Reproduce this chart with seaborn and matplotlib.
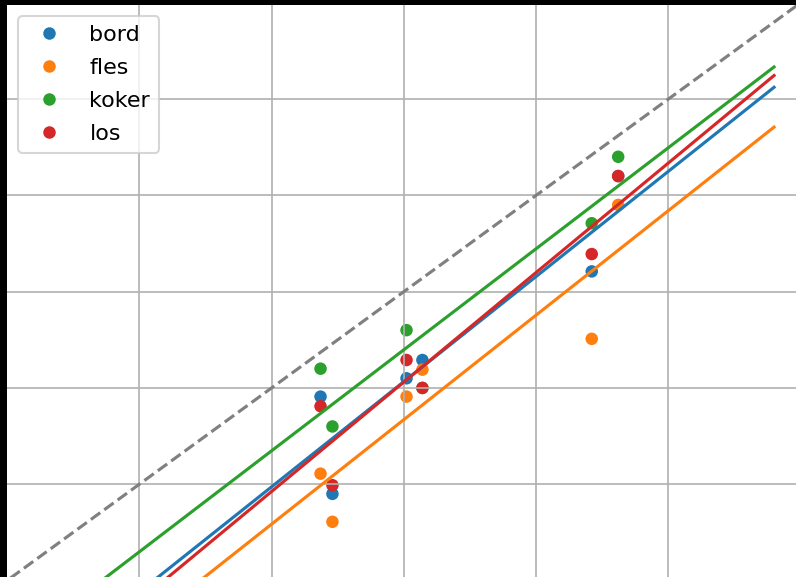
import numpy as np
import pandas as pd
import matplotlib
matplotlib.use("Agg")
import matplotlib.pyplot as plt
import seaborn as sns

# Measured values per object type (same six x positions for every type)
x_vals = [2.37, 2.46, 3.02, 3.14, 4.42, 4.62]
categories = ["bord", "fles", "koker", "los"]
bord = [1.91, 0.90, 2.10, 2.29, 3.21, 4.20]
fles = [1.11, 0.61, 1.91, 2.19, 2.51, 3.90]
koker = [2.20, 1.60, 2.60, 2.00, 3.71, 4.40]
los = [1.81, 0.99, 2.29, 2.00, 3.39, 4.20]
grid_ticks = [1, 2, 3, 4, 5]

series = {"bord": bord, "fles": fles, "koker": koker, "los": los}
df = pd.DataFrame(
    [(x, y, c) for c in categories for x, y in zip(x_vals, series[c])],
    columns=["x", "y", "type"],
)

W, H, DPI = 796, 577, 150
fig = plt.figure(figsize=(W / DPI, H / DPI), dpi=DPI, facecolor="black")
left_px, top_px = 7, 5
ax = fig.add_axes([left_px / W, 0, (W - left_px) / W, (H - top_px) / H])
ax.set_facecolor("white")

palette = sns.color_palette("tab10", len(categories))
colors = dict(zip(categories, palette))

sns.scatterplot(data=df, x="x", y="y", hue="type", hue_order=categories,
                palette=colors, s=36, linewidth=0, ax=ax)

# Least-squares fit line per type
x_line = np.linspace(0, 1.255 * max(x_vals), 100)
for c in categories:
    slope, intercept = np.polyfit(x_vals, series[c], 1)
    sns.lineplot(x=x_line, y=slope * x_line + intercept, color=colors[c],
                 linewidth=1.5, legend=False, ax=ax)

# Identity line
ax.plot([0, 6], [0, 6], linestyle="--", color="gray", linewidth=1.5)

ax.set_xlim(0.0, 5.964)
ax.set_ylim(0.037, 5.976)
ax.set_xticks(grid_ticks)
ax.set_yticks(grid_ticks)
ax.grid(True, color="#b0b0b0", linewidth=0.8)
ax.tick_params(length=0, labelleft=False, labelbottom=False)
ax.set_xlabel("")
ax.set_ylabel("")
for sp in ax.spines.values():
    sp.set_visible(False)

handles, labels = ax.get_legend_handles_labels()
ax.legend(handles[:len(categories)], labels[:len(categories)],
          loc="upper left", fontsize=10.7, labelspacing=0.58)

fig.savefig("out.png", dpi=DPI, facecolor="black")
